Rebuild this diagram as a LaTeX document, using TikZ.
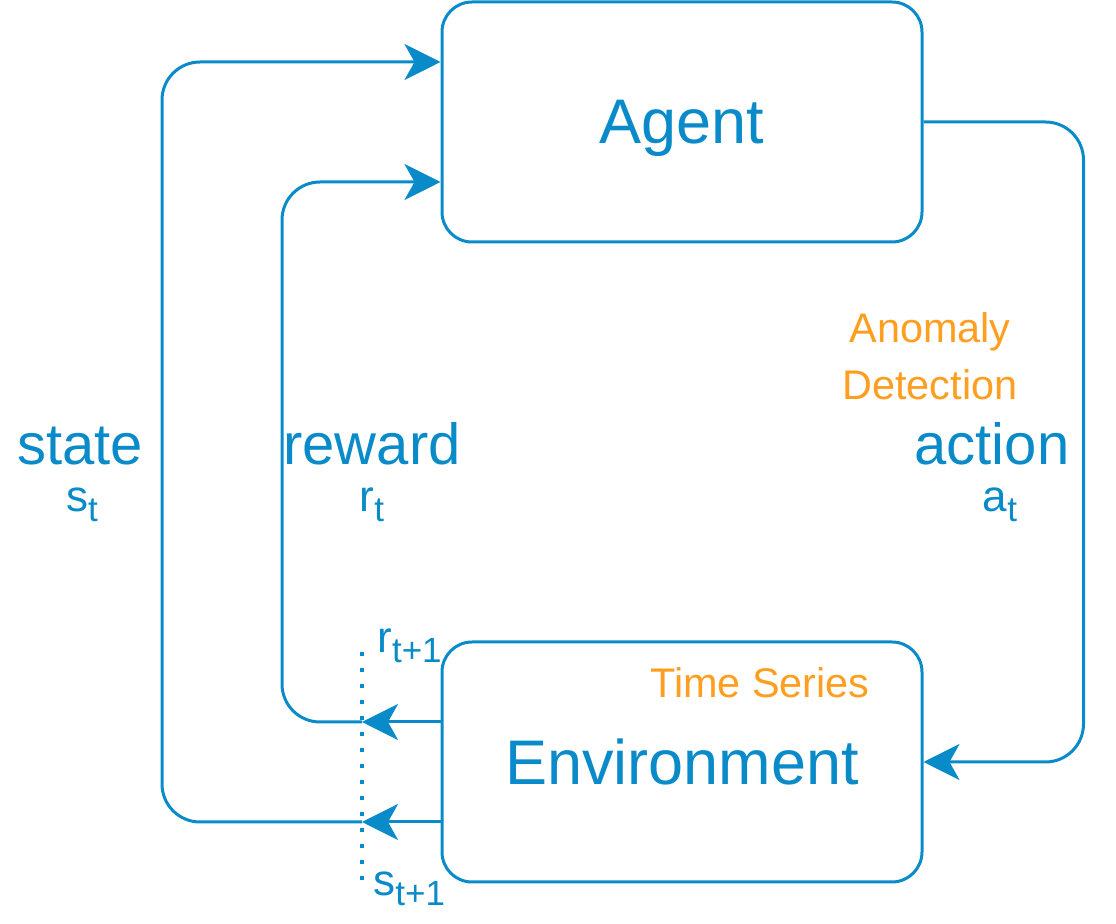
\documentclass[tikz,border=0pt]{standalone}
\usepackage{fontspec}
\setmainfont{Liberation Sans}
\usetikzlibrary{arrows.meta}
\definecolor{rlblue}{HTML}{0A8BC9}
\definecolor{rlorange}{HTML}{FF9E1F}
\newcommand{\lowtxt}[1]{\raisebox{-0.4ex}{\fontsize{17.5}{17.5}\selectfont #1}}

\begin{document}
\begin{tikzpicture}[x=0.5pt, y=-0.5pt,
	box/.style={draw=rlblue, line width=1.5pt, rounded corners=15pt, minimum width=240pt, minimum height=120pt, text=rlblue, font=\fontsize{31.5}{31.5}\selectfont, text depth=0pt},
	flow/.style={draw=rlblue, line width=1.5pt, -{Stealth[length=18pt, width=18pt, inset=5pt]}},
	bigtxt/.style={text=rlblue, font=\fontsize{29}{29}\selectfont, anchor=base, inner sep=0pt},
	smalltxt/.style={text=rlblue, font=\fontsize{22}{22}\selectfont, anchor=base, inner sep=0pt},
	note/.style={text=rlorange, font=\fontsize{20.7}{28.5}\selectfont, align=center, anchor=base, inner sep=0pt}]

		\useasboundingbox (0,0) rectangle (1116,924);

		\node[box] (agent) at (682,122) {Agent};
		\node[box] (env) at (682,762) {Environment};

		\coordinate (rjoin) at (362,722);
		\coordinate (sjoin) at (362,822);
		\coordinate (dottop) at (362,652);
		\coordinate (dotbot) at (362,884);

		\draw[rlblue, line width=1.8pt, dash pattern=on 1.8pt off 6.2pt] (dottop) -- (dotbot); %t+1

		\draw[flow] ([yshift=20pt]env.west) -- (rjoin);
		\draw[flow] ([yshift=-30pt]env.west) -- (sjoin);
		\draw[flow, rounded corners=19pt] (rjoin) -- ++(-80,0) |- ([yshift=-30pt]agent.west); %reward
		\draw[flow, rounded corners=19pt] (sjoin) -- ++(-200,0) |- ([yshift=30pt]agent.west); %state
		\draw[flow, rounded corners=19pt] (agent.east) -- ++(160,0) |- (env.east); %action

		\node[bigtxt] (statelbl) at (80,465) {state};
		\node[smalltxt] (statesym) at (82,512) {s\lowtxt{t}};
		\node[bigtxt] (rewardlbl) at (372,465) {reward};
		\node[smalltxt] (rewardsym) at (372,512) {r\lowtxt{t}};
		\node[bigtxt] (actionlbl) at (992,465) {action};
		\node[smalltxt] (actionsym) at (1000,512) {a\lowtxt{t}};
		\node[smalltxt, anchor=base west] (rnext) at (377,653) {r\lowtxt{t+1}};
		\node[smalltxt, anchor=base west] (snext) at (373,896) {s\lowtxt{t+1}};

		\node[note] (tsnote) at (760,698) {Time Series};
		\node[note] (adnote) at (930,400) {Anomaly\\Detection};

	\end{tikzpicture}
\end{document}
